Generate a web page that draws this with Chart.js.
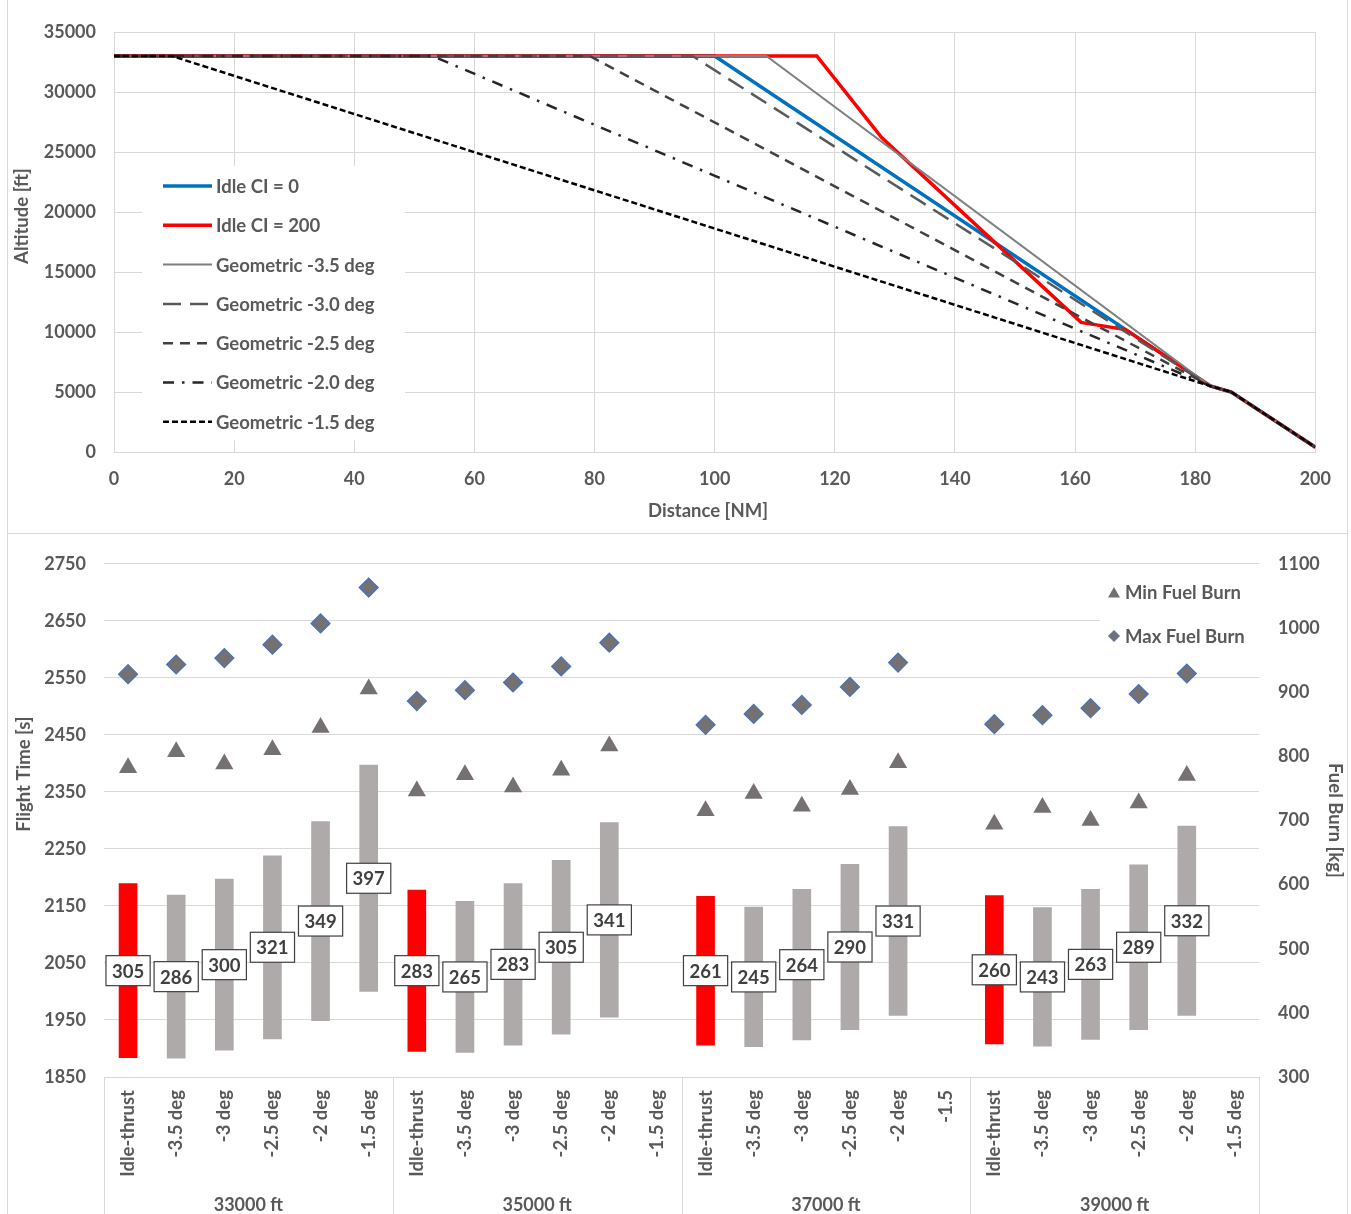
<!DOCTYPE html>
<html>
<head>
<meta charset="utf-8">
<script src="https://cdn.jsdelivr.net/npm/chart.js@4.4.0/dist/chart.umd.min.js"></script>
<style>
  html, body { margin: 0; padding: 0; background: #fff; }
  .frame { position: absolute; left: 7px; width: 1339px; border: 1px solid #d9d9d9; }
  #f1 { top: -1px; height: 533px; }
  #f2 { top: 533px; height: 680px; }
  canvas { display: block; }
</style>
</head>
<body>
<div class="frame" id="f1"><canvas id="profile" width="1339" height="533"></canvas></div>
<div class="frame" id="f2"><canvas id="burn" width="1339" height="680"></canvas></div>
<script>
// descent profiles: distance [NM] / altitude [ft]
const idleCI0Dist = [0, 100, 182.5, 186, 200];
const idleCI0Alt = [33000, 33000, 5500, 5000, 400];
const idleCI200Dist = [0, 117, 127.8, 161, 168.4, 182.5, 186, 200];
const idleCI200Alt = [33000, 33000, 26200, 10800, 10200, 5500, 5000, 400];
const geo35Dist = [0, 108.6, 182.5, 186, 200];
const geo30Dist = [0, 96.3, 182.5, 186, 200];
const geo25Dist = [0, 79.2, 182.5, 186, 200];
const geo20Dist = [0, 53, 182.5, 186, 200];
const geo15Dist = [0, 9.6, 182.5, 186, 200];
const geoAlt = [33000, 33000, 5500, 5000, 400];

// bottom chart
const groups = ['33000 ft', '35000 ft', '37000 ft', '39000 ft'];
const descents = [
  'Idle-thrust', '-3.5 deg', '-3 deg', '-2.5 deg', '-2 deg', '-1.5 deg',
  'Idle-thrust', '-3.5 deg', '-3 deg', '-2.5 deg', '-2 deg', '-1.5 deg',
  'Idle-thrust', '-3.5 deg', '-3 deg', '-2.5 deg', '-2 deg', '-1.5',
  'Idle-thrust', '-3.5 deg', '-3 deg', '-2.5 deg', '-2 deg', '-1.5 deg'
];
const flightTimeMin = [1884, 1883, 1897, 1917, 1949, 2000, 1895, 1893, 1906, 1925, 1955, null,
  1906, 1903, 1915, 1933, 1958, null, 1908, 1904, 1916, 1933, 1958, null];
const flightTimeRange = [305, 286, 300, 321, 349, 397, 283, 265, 283, 305, 341, null,
  261, 245, 264, 290, 331, null, 260, 243, 263, 289, 332, null];
const minFuelBurn = [782, 807, 788, 810, 845, 905, 746, 771, 752, 778, 816, null,
  715, 742, 722, 748, 790, null, 694, 720, 700, 727, 770, null];
const maxFuelBurn = [928, 943, 953, 974, 1007, 1063, 886, 903, 915, 940, 977, null,
  849, 866, 880, 908, 946, null, 850, 864, 875, 897, 929, null];

const FONT = 'Lato, "Open Sans", sans-serif';
const TXT = '#595959';
const GRID = '#d9d9d9';
const LBL = 'bold 18.5px ' + FONT;
Chart.defaults.font.family = FONT;
Chart.defaults.color = TXT;

function pts(xs, ys) { return xs.map((x, i) => ({ x: x, y: ys[i] })); }
const plain = v => String(v);

// legend drawn inside the plot on a white box, plus axis titles
const profileLegend = {
  id: 'profileLegend',
  afterDraw(chart) {
    const ctx = chart.ctx;
    ctx.save();
    ctx.fillStyle = '#fff';
    ctx.fillRect(134, 166, 263, 274);
    ctx.font = LBL;
    ctx.textBaseline = 'middle';
    chart.data.datasets.forEach((ds, i) => {
      const y = 186 + i * 39.3;
      ctx.strokeStyle = ds.borderColor;
      ctx.lineWidth = ds.borderWidth;
      ctx.setLineDash(ds.borderDash || []);
      ctx.beginPath();
      ctx.moveTo(155, y);
      ctx.lineTo(204, y);
      ctx.stroke();
      ctx.setLineDash([]);
      ctx.fillStyle = TXT;
      ctx.textAlign = 'left';
      ctx.fillText(ds.label, 208, y + 1);
    });
    ctx.textAlign = 'center';
    ctx.fillText('Distance [NM]', 700, 511);
    ctx.translate(14, 216);
    ctx.rotate(-Math.PI / 2);
    ctx.fillText('Altitude [ft]', 0, 0);
    ctx.restore();
  }
};

new Chart(document.getElementById('profile'), {
  type: 'line',
  data: {
    datasets: [
      { label: 'Idle CI = 0', data: pts(idleCI0Dist, idleCI0Alt), borderColor: '#0070C0', borderWidth: 3.5, order: 7 },
      { label: 'Idle CI = 200', data: pts(idleCI200Dist, idleCI200Alt), borderColor: '#FF0000', borderWidth: 3.5, order: 6 },
      { label: 'Geometric -3.5 deg', data: pts(geo35Dist, geoAlt), borderColor: '#7f7f7f', borderWidth: 2, order: 5 },
      { label: 'Geometric -3.0 deg', data: pts(geo30Dist, geoAlt), borderColor: '#595959', borderWidth: 2.5, borderDash: [18, 9], order: 4 },
      { label: 'Geometric -2.5 deg', data: pts(geo25Dist, geoAlt), borderColor: '#404040', borderWidth: 2.5, borderDash: [10, 7], order: 3 },
      { label: 'Geometric -2.0 deg', data: pts(geo20Dist, geoAlt), borderColor: '#262626', borderWidth: 2.5, borderDash: [11, 8, 2.5, 8], order: 2 },
      { label: 'Geometric -1.5 deg', data: pts(geo15Dist, geoAlt), borderColor: '#000000', borderWidth: 2.5, borderDash: [6, 3], order: 1 }
    ]
  },
  options: {
    responsive: false,
    animation: false,
    layout: { padding: { top: 32, right: 30, left: 0, bottom: 0 } },
    elements: { point: { radius: 0 }, line: { tension: 0, fill: false } },
    plugins: { legend: { display: false }, tooltip: { enabled: false } },
    scales: {
      x: {
        type: 'linear', min: 0, max: 200,
        ticks: { stepSize: 20, padding: 16, color: TXT, font: { size: 18, weight: 'bold' }, callback: plain },
        grid: { color: GRID, drawTicks: false },
        border: { color: GRID },
        afterFit: s => { s.height = 81; }
      },
      y: {
        type: 'linear', min: 0, max: 35000,
        ticks: { stepSize: 5000, padding: 18, color: TXT, font: { size: 18, weight: 'bold' }, callback: plain },
        grid: { color: GRID, drawTicks: false },
        border: { color: GRID },
        afterFit: s => { s.width = 106; }
      }
    }
  },
  plugins: [profileLegend]
});

// bottom chart
const flightTimeBars = flightTimeMin.map((m, i) => m == null ? null : [m, m + flightTimeRange[i]]);
const barColors = descents.map(d => d === 'Idle-thrust' ? '#FF0000' : '#AEAAAA');

const burnDecor = {
  id: 'burnDecor',
  afterDatasetsDraw(chart) {
    const ctx = chart.ctx;
    const meta = chart.getDatasetMeta(2);
    ctx.save();
    ctx.font = 'bold 18.5px ' + FONT;
    ctx.textAlign = 'center';
    ctx.textBaseline = 'middle';
    meta.data.forEach((bar, i) => {
      const v = flightTimeRange[i];
      if (v == null) return;
      const cx = bar.x;
      const cy = (bar.y + bar.base) / 2;
      const w = ctx.measureText(String(v)).width + 12;
      const h = 30;
      ctx.fillStyle = '#fff';
      ctx.fillRect(cx - w / 2, cy - h / 2, w, h);
      ctx.strokeStyle = '#404040';
      ctx.lineWidth = 1.2;
      ctx.strokeRect(cx - w / 2, cy - h / 2, w, h);
      ctx.fillStyle = '#404040';
      ctx.fillText(String(v), cx, cy + 1);
    });
    ctx.restore();
  },
  afterDraw(chart) {
    const ctx = chart.ctx;
    const x = chart.scales.x;
    const area = chart.chartArea;
    const half = (x.getPixelForValue(1) - x.getPixelForValue(0)) / 2;
    ctx.save();
    // group separators and group labels
    ctx.strokeStyle = GRID;
    ctx.lineWidth = 1;
    for (let g = 0; g <= groups.length; g++) {
      const px = Math.round(x.getPixelForValue(g * 6) - half) + 0.5;
      ctx.beginPath();
      ctx.moveTo(px, area.bottom);
      ctx.lineTo(px, chart.height);
      ctx.stroke();
    }
    ctx.fillStyle = TXT;
    ctx.font = 'bold 18px ' + FONT;
    ctx.textAlign = 'center';
    ctx.textBaseline = 'middle';
    groups.forEach((g, i) => {
      const cx = (x.getPixelForValue(i * 6) + x.getPixelForValue(i * 6 + 5)) / 2;
      ctx.fillText(g, cx, 671);
    });
    ctx.font = LBL;
    // left axis title
    ctx.save();
    ctx.translate(16, 240);
    ctx.rotate(-Math.PI / 2);
    ctx.fillText('Flight Time [s]', 0, 0);
    ctx.restore();
    // legend
    ctx.fillStyle = '#fff';
    ctx.fillRect(1092, 44, 159, 74);
    ctx.fillStyle = '#767171';
    ctx.beginPath();
    ctx.moveTo(1106, 53);
    ctx.lineTo(1112, 63.5);
    ctx.lineTo(1100, 63.5);
    ctx.closePath();
    ctx.fill();
    ctx.beginPath();
    ctx.moveTo(1106, 96.5);
    ctx.lineTo(1111.5, 102);
    ctx.lineTo(1106, 107.5);
    ctx.lineTo(1100.5, 102);
    ctx.closePath();
    ctx.fill();
    ctx.strokeStyle = '#4472C4';
    ctx.lineWidth = 1;
    ctx.stroke();
    ctx.fillStyle = TXT;
    ctx.textAlign = 'left';
    ctx.fillText('Min Fuel Burn', 1117, 59);
    ctx.fillText('Max Fuel Burn', 1117, 103);
    ctx.restore();
  }
};

new Chart(document.getElementById('burn'), {
  type: 'bar',
  data: {
    labels: descents,
    datasets: [
      { type: 'line', label: 'Min Fuel Burn', data: minFuelBurn, yAxisID: 'y1', showLine: false,
        pointStyle: 'triangle', pointRadius: 10.5, pointBackgroundColor: '#767171', pointBorderColor: '#767171', pointBorderWidth: 0 },
      { type: 'line', label: 'Max Fuel Burn', data: maxFuelBurn, yAxisID: 'y1', showLine: false,
        pointStyle: 'rectRot', pointRadius: 9.5, pointBackgroundColor: '#767171', pointBorderColor: '#4472C4', pointBorderWidth: 1.2 },
      { type: 'bar', label: 'Flight Time', data: flightTimeBars, yAxisID: 'y', backgroundColor: barColors, barThickness: 18 }
    ]
  },
  options: {
    responsive: false,
    animation: false,
    layout: { padding: { top: 27, right: 0, left: 0, bottom: 0 } },
    plugins: { legend: { display: false }, tooltip: { enabled: false } },
    scales: {
      x: {
        type: 'category', offset: true,
        ticks: { autoSkip: false, minRotation: 90, maxRotation: 90, padding: 5, color: TXT, font: { size: 18.5, weight: 'bold' } },
        grid: { display: false },
        border: { color: GRID },
        afterFit: s => { s.height = 137; }
      },
      y: {
        position: 'left', min: 1850, max: 2750, beginAtZero: false,
        ticks: { stepSize: 100, padding: 18, color: TXT, font: { size: 18, weight: 'bold' }, callback: plain },
        grid: { color: GRID, drawTicks: false },
        border: { display: false },
        afterFit: s => { s.width = 96; }
      },
      y1: {
        position: 'right', min: 300, max: 1100, beginAtZero: false,
        ticks: { stepSize: 100, padding: 19, color: TXT, font: { size: 18, weight: 'bold' }, callback: plain },
        grid: { display: false, drawTicks: false },
        border: { display: false },
        title: { display: true, text: 'Fuel Burn [kg]', color: TXT, font: { size: 18.5, weight: 'bold' }, padding: { top: 1 } },
        afterFit: s => { s.width = 88; }
      }
    }
  },
  plugins: [burnDecor]
});
</script>
</body>
</html>
